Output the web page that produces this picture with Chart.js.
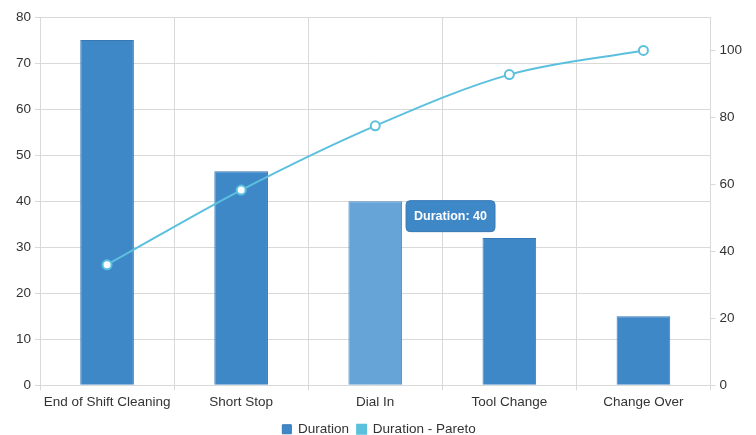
<!DOCTYPE html>
<html>
<head>
<meta charset="utf-8">
<script src="https://cdn.jsdelivr.net/npm/chart.js@4.4.0/dist/chart.umd.min.js"></script>
<style>
  html, body { margin: 0; padding: 0; background: #fff; }
  #wrap { width: 756px; height: 435px; }
</style>
</head>
<body>
<div id="wrap"><canvas id="pareto-chart"></canvas></div>
<script>
  // Data
  const categories = ['End of Shift Cleaning', 'Short Stop', 'Dial In', 'Tool Change', 'Change Over'];
  const durations = [75, 46.5, 40, 32, 15];
  const paretoPercent = [36, 58.3, 77.5, 92.8, 100];
  const durationTicks = [0, 10, 20, 30, 40, 50, 60, 70, 80];
  const paretoTicks = [0, 20, 40, 60, 80, 100];

  const gridColor = '#d9d9d9';
  const textColor = '#333';

  Chart.defaults.font.family = '"Liberation Sans", Arial, sans-serif';
  Chart.defaults.font.size = 13.5;
  Chart.defaults.color = textColor;

  // tooltip sits just right of the bar, vertically on its top edge
  Chart.Tooltip.positioners.barSide = function (items) {
    if (!items.length) return false;
    const el = items[0].element;
    return { x: el.x + el.width / 2 + 4, y: el.y + 15 };
  };

  const ctx = document.getElementById('pareto-chart').getContext('2d');
  const chart = new Chart(ctx, {
    type: 'bar',
    data: {
      labels: categories,
      datasets: [
        {
          label: 'Duration',
          data: durations,
          backgroundColor: '#3f88c8',
          hoverBackgroundColor: '#66a3d6',
          borderColor: '#3679b4',
          hoverBorderColor: '#4f8fc6',
          borderWidth: 1,
          barPercentage: 0.4,
          categoryPercentage: 1,
          yAxisID: 'y',
          order: 2
        },
        {
          type: 'line',
          label: 'Duration - Pareto',
          data: paretoPercent,
          borderColor: '#5bc0de',
          backgroundColor: '#5bc0de',
          borderWidth: 2,
          pointRadius: 4.5,
          pointBorderWidth: 2,
          pointBackgroundColor: '#fff',
          pointBorderColor: '#5bc0de',
          cubicInterpolationMode: 'monotone',
          fill: false,
          yAxisID: 'y1',
          order: 1
        }
      ]
    },
    options: {
      responsive: true,
      maintainAspectRatio: false,
      animation: false,
      events: [],
      layout: { padding: { left: 12, right: 10, top: 17, bottom: -11 } },
      scales: {
        x: {
          grid: { color: gridColor, tickLength: 5, offset: true },
          border: { color: gridColor },
          ticks: { color: textColor, padding: 4, maxRotation: 0 }
        },
        y: {
          position: 'left',
          min: 0,
          max: 80,
          grid: { color: gridColor, tickLength: 5 },
          border: { color: gridColor },
          afterBuildTicks: (axis) => { axis.ticks = durationTicks.map(v => ({ value: v })); },
          ticks: { color: textColor, padding: 4 }
        },
        y1: {
          position: 'right',
          min: 0,
          max: 110,
          grid: { drawOnChartArea: false, color: gridColor, tickLength: 5 },
          border: { color: gridColor },
          afterBuildTicks: (axis) => { axis.ticks = paretoTicks.map(v => ({ value: v })); },
          ticks: { color: textColor, padding: 4 }
        }
      },
      plugins: {
        legend: {
          position: 'bottom',
          labels: {
            boxWidth: 9,
            boxHeight: 9,
            padding: 8,
            color: textColor,
            sort: (a, b) => a.datasetIndex - b.datasetIndex
          }
        },
        tooltip: {
          position: 'barSide',
          xAlign: 'left',
          yAlign: 'center',
          caretSize: 0,
          caretPadding: 0,
          displayColors: false,
          backgroundColor: '#3f88c8',
          borderColor: '#3679b4',
          borderWidth: 1,
          cornerRadius: 4,
          padding: { left: 8, right: 8, top: 8, bottom: 8 },
          bodyColor: '#fff',
          bodyFont: { size: 12.5, weight: 'bold' },
          callbacks: {
            title: () => '',
            label: (item) => item.dataset.label + ': ' + item.raw
          }
        }
      }
    }
  });

  // highlight the "Dial In" bar with its tooltip
  const active = [{ datasetIndex: 0, index: 2 }];
  chart.setActiveElements(active);
  chart.tooltip.setActiveElements(active, { x: 0, y: 0 });
  chart.update('none');
</script>
</body>
</html>
